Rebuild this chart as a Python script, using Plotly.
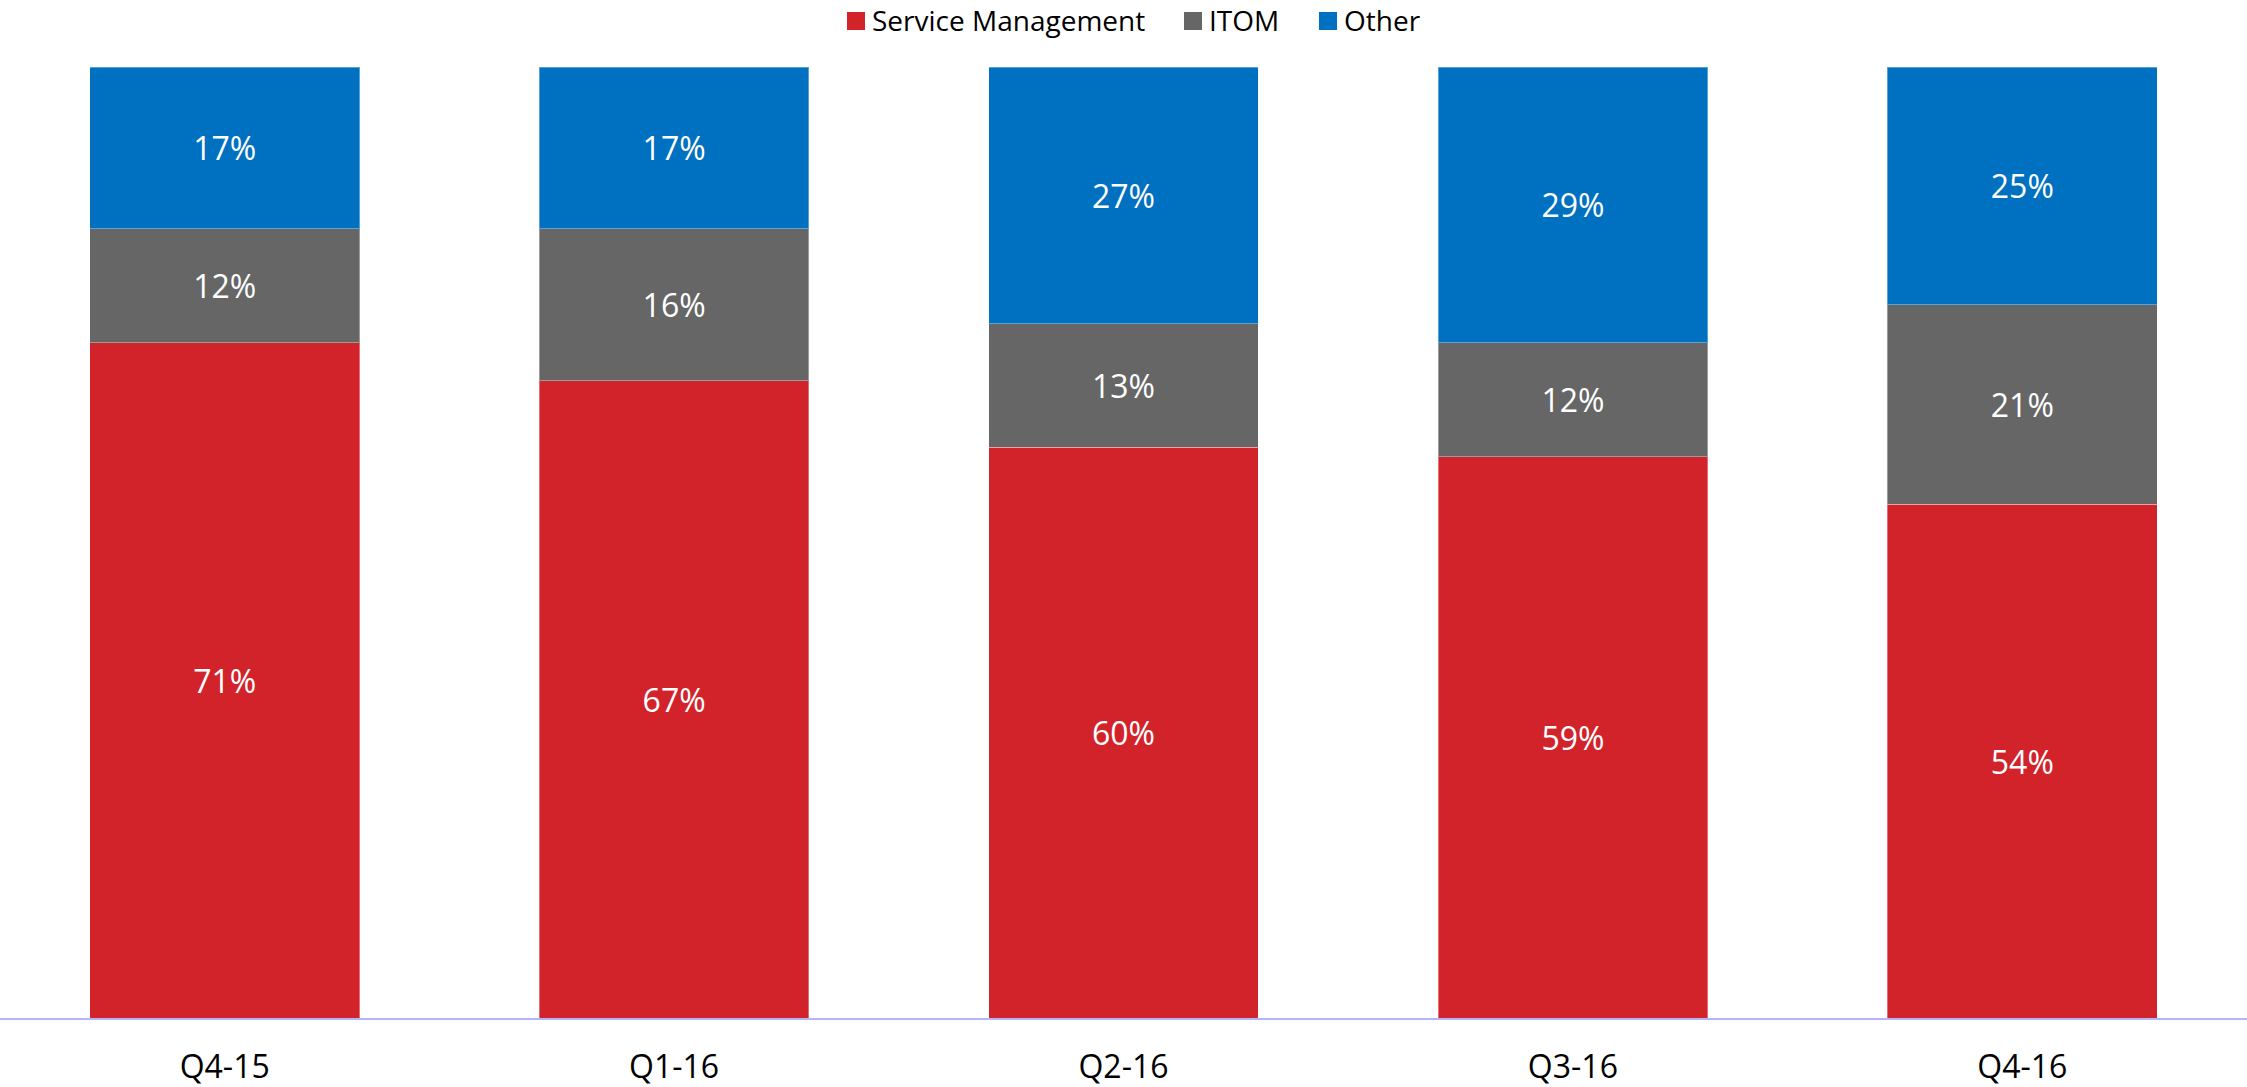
import plotly.graph_objects as go

# Quarterly revenue mix by product line (percent of total)
quarters = ["Q4-15", "Q1-16", "Q2-16", "Q3-16", "Q4-16"]
service_mgmt = [71, 67, 60, 59, 54]
itom = [12, 16, 13, 12, 21]
other = [17, 17, 27, 29, 25]

series_names = ["Service Management", "ITOM", "Other"]
series_values = [service_mgmt, itom, other]
series_colors = ["#D2232A", "#666666", "#0070C0"]

FONT = "Open Sans"
W, H = 2247, 1087
M_TOP, M_BOTTOM = 67, 69

fig = go.Figure()
for name, values, color in zip(series_names, series_values, series_colors):
    fig.add_trace(go.Bar(
        name=name,
        x=quarters,
        y=values,
        marker=dict(color=color, line=dict(color="rgba(255,255,255,0.35)", width=1)),
        texttemplate="%{y}%",
        textposition="inside",
        insidetextanchor="middle",
        textfont=dict(color="white", size=32, family=FONT),
        showlegend=False,
        hoverinfo="x+y+name",
    ))


# Custom legend row above the plot: square swatch followed by its label
def px_to_paper_x(px):
    return px / W


def px_to_paper_y(py):
    plot_h = H - M_TOP - M_BOTTOM
    return (H - M_BOTTOM - py) / plot_h


legend_swatch_left = [847, 1184, 1319]
swatch_size = 18
legend_center_y = 21
shapes = []
annotations = []
for name, color, left in zip(series_names, series_colors, legend_swatch_left):
    shapes.append(dict(
        type="rect", xref="paper", yref="paper",
        x0=px_to_paper_x(left), x1=px_to_paper_x(left + swatch_size),
        y0=px_to_paper_y(legend_center_y + swatch_size / 2),
        y1=px_to_paper_y(legend_center_y - swatch_size / 2),
        fillcolor=color, line=dict(width=0),
    ))
    annotations.append(dict(
        text=name, xref="paper", yref="paper",
        x=px_to_paper_x(left + swatch_size + 5), xanchor="left",
        y=px_to_paper_y(legend_center_y - 1), yanchor="middle",
        showarrow=False,
        font=dict(size=28, family=FONT, color="#000000"),
    ))

fig.update_layout(
    barmode="stack",
    bargap=0.4,
    width=W,
    height=H,
    margin=dict(l=0, r=0, t=M_TOP, b=M_BOTTOM, autoexpand=False),
    paper_bgcolor="white",
    plot_bgcolor="white",
    font=dict(family=FONT, color="#000000"),
    showlegend=False,
    shapes=shapes,
    annotations=annotations,
    xaxis=dict(
        showline=True,
        linecolor="#B4B4F8",
        linewidth=2,
        showgrid=False,
        ticks="",
        tickfont=dict(size=32, family=FONT, color="#000000"),
        ticklabelstandoff=20,
    ),
    yaxis=dict(
        range=[0, 100],
        visible=False,
        showgrid=False,
        zeroline=False,
    ),
)

fig.write_html("out.html")
